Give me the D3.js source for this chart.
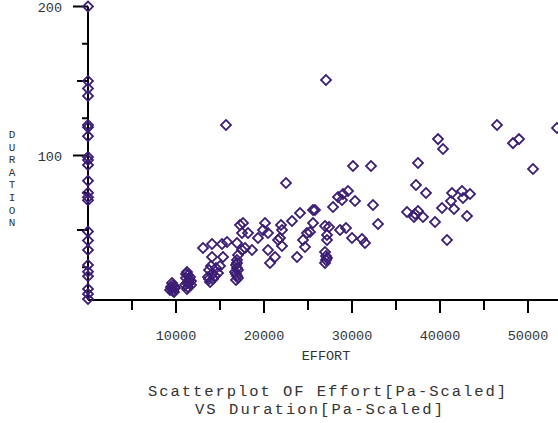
<!DOCTYPE html>
<html lang="en">
  <head>
    <meta charset="UTF-8" />
    <title>Scatterplot OF Effort VS Duration</title>
    <style>
      body { margin: 0; background: #fff; }
      text { font-family: 'Liberation Mono', monospace; fill: #333; }
    </style>
  </head>
  <body>
    <script src="https://d3js.org/d3.v7.min.js"></script>

    <svg id="scatter" width="558" height="423"></svg>

    <script>
      // effort[pa-scaled] values
      const effort = [
        0, 0, 0, 0, 0, 0, 0, 0, 0, 0, 0, 0, 0, 0, 0, 0, 0, 0, 0, 0, 0, 0, 0,
        9545, 9659, 9773, 9432, 9886, 9659, 9545, 9773, 9318,
        11250, 11364, 11136, 11477, 11250, 11705, 11364, 11590, 11023, 11136, 11477, 11705, 11250,
        13068, 14091, 14091, 15227, 15795, 15341,
        13750, 14091, 13636, 14545, 14205, 14773, 13864, 15000, 13977, 14432, 13750, 15682,
        16932, 17273, 17614, 17500, 17500, 17841, 16932, 16818, 16932, 16705, 16932, 16818, 17045,
        16932, 17045, 16818, 17045,
        18182, 18636, 19318, 19886, 20114, 20455, 20455, 20682, 21250, 21591, 22045, 21818,
        21932, 22045, 22500, 23182, 23750, 24091, 24432, 24659, 24886, 25227, 25568, 25568, 25795,
        27045, 26932, 27386, 27159, 27159, 26932, 27045, 27045, 26932, 27159,
        27841, 28409, 28977, 29545, 28864, 28636, 29318, 30000, 30114, 30341, 31136, 31477,
        32159, 32386, 32955,
        36250, 37159, 37500, 37045, 37273, 37500, 38068, 38409, 39432, 39773, 40341, 40227,
        40795, 41250, 41364, 41591, 42500, 42614, 43068, 43409,
        46477, 48295, 48977, 50568, 53295
      ];

      // duration[pa-scaled] values, same order
      const duration = [
        200, 150, 145, 140, 120.5, 119, 113, 99, 97, 93.6, 83, 75, 72, 70, 49, 43, 36.6, 26.5, 22, 19, 10.4, 7, 3.7,
        10.4, 13.1, 8.4, 11.7, 11.1, 9.1, 14.4, 11.7, 9.7,
        21.8, 19.8, 17.8, 16.4, 14.4, 13.1, 11.7, 18.5, 13.1, 20.5, 14.4, 15.8, 10.4,
        37.9, 40.6, 31.9, 40.6, 41.9, 31.9,
        23.2, 20.5, 18.5, 24.5, 17.1, 21.1, 15.1, 25.8, 25.8, 19.1, 17.1, 120.5,
        41.3, 53.4, 54.7, 48, 36.6, 37.9, 29.9, 26.5, 24.5, 21.8, 19.1, 16.4, 33.2,
        27.9, 23.2, 20.5, 17.8,
        48, 36.6, 44.6, 50, 54.7, 48, 36.6, 27.9, 31.9, 43.3, 39.3, 44.6,
        53.4, 50, 81.5, 56, 31.9, 61.4, 43.3, 38.6, 48, 48.7, 54.7, 63.4, 63.4,
        150.7, 52.7, 52, 46.6, 43.3, 35.2, 32.5, 29.9, 27.9, 31.2,
        65.4, 72.1, 74.2, 76.2, 70.1, 50, 51.3, 44.6, 92.9, 69.5, 43.9, 41.3,
        92.9, 66.8, 54,
        62.1, 60.7, 62.7, 58.7, 80.2, 95, 58.7, 74.8, 55.4, 111, 104.4, 64.8,
        43.3, 69.5, 74.8, 64.1, 76.2, 71.5, 59.4, 74.2,
        120.5, 108.3, 111, 90.9, 118.4
      ];

      const xTickLabels = ['10000', '20000', '30000', '40000', '50000'];
      const yTickLabels = ['100', '200'];

      const points = effort.map((e, i) => ({ effort: e, duration: duration[i] }));

      const svg = d3.select('#scatter');
      const x = d3.scaleLinear().domain([0, 53409]).range([88, 558]);
      const y = d3.scaleLinear().domain([0, 200]).range([304.5, 6.5]);
      const axisY = 300;

      // x axis
      svg.append('line')
        .attr('x1', 88).attr('x2', 558)
        .attr('y1', axisY).attr('y2', axisY)
        .attr('stroke', '#000').attr('stroke-width', 2);

      svg.selectAll('.xtick')
        .data(d3.range(5000, 55000, 5000))
        .enter()
        .append('line')
        .attr('class', 'xtick')
        .attr('x1', (d) => x(d)).attr('x2', (d) => x(d))
        .attr('y1', axisY)
        .attr('y2', (d) => axisY + (d % 10000 === 0 ? 13 : 10))
        .attr('stroke', '#000').attr('stroke-width', 2);

      svg.selectAll('.xlabel')
        .data(xTickLabels)
        .enter()
        .append('text')
        .attr('class', 'xlabel')
        .text((d) => d)
        .attr('x', (d) => x(+d))
        .attr('y', 340)
        .attr('font-size', 13.5)
        .attr('text-anchor', 'middle');

      svg.append('text')
        .text('EFFORT')
        .attr('x', 326).attr('y', 360)
        .attr('font-size', 13.5)
        .attr('text-anchor', 'middle');

      // y axis
      svg.append('line')
        .attr('x1', 88).attr('x2', 88)
        .attr('y1', y(200)).attr('y2', axisY)
        .attr('stroke', '#000').attr('stroke-width', 2);

      svg.selectAll('.ytick')
        .data(d3.range(25, 225, 25))
        .enter()
        .append('line')
        .attr('class', 'ytick')
        .attr('x1', (d) => 88 - (d % 100 === 0 ? 15 : d % 50 === 0 ? 11 : 6))
        .attr('x2', 88)
        .attr('y1', (d) => y(d)).attr('y2', (d) => y(d))
        .attr('stroke', '#000').attr('stroke-width', 2);

      svg.selectAll('.ylabel')
        .data(yTickLabels)
        .enter()
        .append('text')
        .attr('class', 'ylabel')
        .text((d) => d)
        .attr('x', 62)
        .attr('y', (d) => y(+d) + 5)
        .attr('font-size', 13.5)
        .attr('text-anchor', 'end');

      // stacked letters of the y title
      svg.selectAll('.yletter')
        .data('DURATION'.split(''))
        .enter()
        .append('text')
        .attr('class', 'yletter')
        .text((d) => d)
        .attr('x', 12)
        .attr('y', (d, i) => 138 + i * 12.6)
        .attr('font-size', 11)
        .attr('text-anchor', 'middle');

      // points, square turned 45 degrees
      const diamond = d3.symbol().type(d3.symbolSquare).size(50);
      svg.append('g')
        .selectAll('path')
        .data(points)
        .enter()
        .append('path')
        .attr('d', diamond)
        .attr('transform', (d) => `translate(${x(d.effort)},${y(d.duration)}) rotate(45)`)
        .attr('fill', 'none')
        .attr('stroke', '#3c1d76')
        .attr('stroke-width', 1.8);

      // title, two lines; stretched to the reference widths
      svg.append('text')
        .text('Scatterplot OF Effort[Pa-Scaled]')
        .attr('x', 327).attr('y', 396)
        .attr('font-size', 15.5)
        .attr('text-anchor', 'middle')
        .attr('textLength', 358)
        .attr('lengthAdjust', 'spacing');
      svg.append('text')
        .text('VS Duration[Pa-Scaled]')
        .attr('x', 319).attr('y', 414)
        .attr('font-size', 15.5)
        .attr('text-anchor', 'middle')
        .attr('textLength', 248)
        .attr('lengthAdjust', 'spacing');
    </script>
  </body>
</html>
